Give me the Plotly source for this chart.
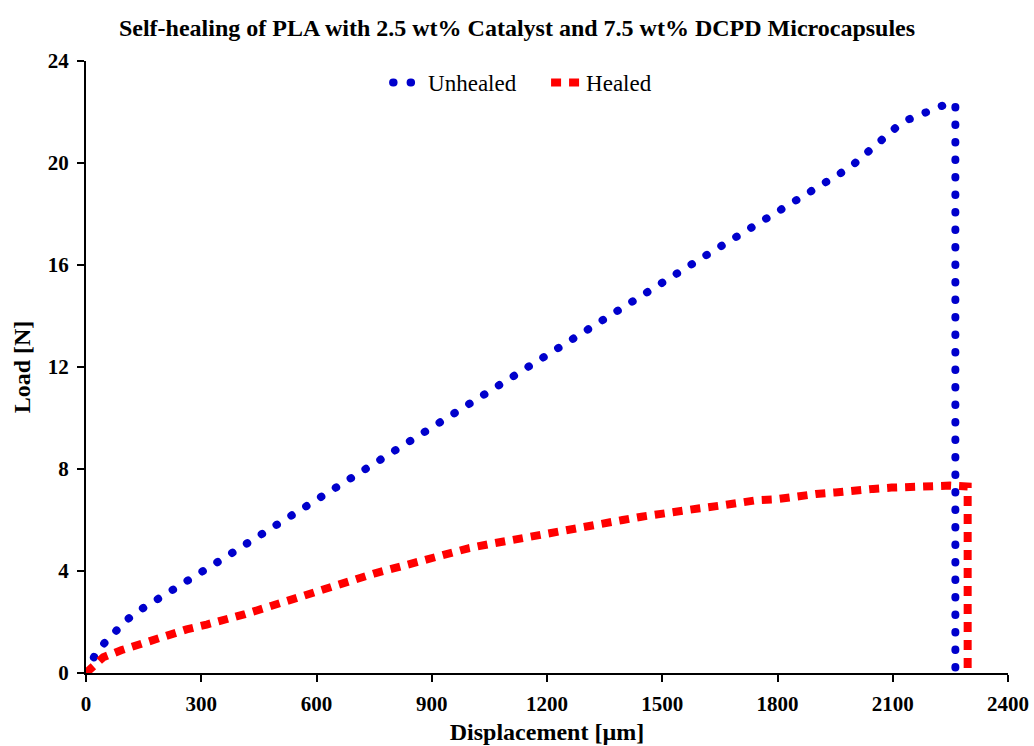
import plotly.graph_objects as go

# Unhealed (blue, dotted)
unhealed_x = [0, 28, 55, 81, 106, 132, 171, 210, 249, 288, 325, 365, 403, 600, 785,
              1098, 1251, 1600, 1989, 2012, 2037, 2063, 2088, 2113, 2138, 2163, 2188,
              2213, 2238, 2263, 2263]
unhealed_y = [0, 0.84, 1.29, 1.73, 2.08, 2.39, 2.74, 3.11, 3.48, 3.83, 4.20, 4.56, 4.93,
              6.80, 8.56, 11.45, 12.93, 16.25, 19.83, 20.14, 20.51, 20.84, 21.11, 21.45,
              21.69, 21.84, 22.05, 22.17, 22.30, 22.33, 0]

# Healed (red, dashed)
healed_x = [0, 45, 93, 132, 180, 219, 262, 314, 366, 414, 461, 514, 544, 596, 648, 696,
            752, 800, 846, 895, 946, 995, 1045, 1093, 1147, 1195, 1247, 1297, 1347, 1397,
            1446, 1496, 1548, 1598, 1648, 1698, 1748, 1800, 1850, 1900, 1950, 1997, 2049,
            2097, 2175, 2249, 2295, 2295]
healed_y = [0, 0.62, 0.90, 1.09, 1.35, 1.55, 1.71, 1.90, 2.08, 2.31, 2.53, 2.78, 2.99,
            3.23, 3.48, 3.67, 3.91, 4.10, 4.30, 4.46, 4.69, 4.89, 5.04, 5.18, 5.35, 5.48,
            5.61, 5.76, 5.89, 6.00, 6.13, 6.26, 6.35, 6.46, 6.56, 6.68, 6.78, 6.82, 6.94,
            7.02, 7.08, 7.18, 7.22, 7.27, 7.35, 7.35, 7.31, 0]

x_ticks = [0, 300, 600, 900, 1200, 1500, 1800, 2100, 2400]
y_ticks = [0, 4, 8, 12, 16, 20, 24]

FONT = "Liberation Serif, Times New Roman, serif"
BLUE = "rgb(0, 0, 204)"
RED = "rgb(255, 0, 0)"

fig = go.Figure()
fig.add_trace(go.Scatter(
    x=unhealed_x, y=unhealed_y, mode="lines", name="Unhealed",
    line=dict(color=BLUE, width=8, dash="7px,10.5px"),
))
fig.add_trace(go.Scatter(
    x=healed_x, y=healed_y, mode="lines", name="Healed",
    line=dict(color=RED, width=8, dash="10px,8px"),
))

fig.update_layout(
    width=1034, height=746,
    margin=dict(l=86, r=26, t=61, b=73),
    paper_bgcolor="white", plot_bgcolor="white",
    font=dict(family=FONT, color="black"),
    title=dict(
        text="<b>Self-healing of PLA with 2.5 wt% Catalyst and 7.5 wt% DCPD Microcapsules</b>",
        x=0.5, xanchor="center", y=0.963, yanchor="middle",
        font=dict(family=FONT, size=24, color="black"),
    ),
    showlegend=True,
    legend=dict(
        orientation="h", x=0.499, xanchor="center", y=1.0, yanchor="top",
        font=dict(family=FONT, size=23, color="black"),
        bgcolor="rgba(0,0,0,0)", entrywidth=113,
    ),
    xaxis=dict(
        range=[0, 2400], tickvals=x_ticks, ticktext=[f"<b>{v}</b>" for v in x_ticks],
        showline=True, linecolor="black", linewidth=2, mirror=False,
        ticks="outside", ticklen=7, tickwidth=2, tickcolor="black",
        showgrid=False, zeroline=False, ticklabelstandoff=4, automargin=False,
        tickfont=dict(family=FONT, size=21, color="black"),
        title=dict(text="<b>Displacement [µm]</b>", standoff=8,
                   font=dict(family=FONT, size=24, color="black")),
    ),
    yaxis=dict(
        range=[0, 24], tickvals=y_ticks, ticktext=[f"<b>{v}</b>" for v in y_ticks],
        showline=True, linecolor="black", linewidth=2, mirror=False,
        ticks="outside", ticklen=7, tickwidth=2, tickcolor="black",
        showgrid=False, zeroline=False, ticklabelstandoff=4, automargin=False,
        tickfont=dict(family=FONT, size=21, color="black"),
        title=dict(text="<b>Load [N]</b>", standoff=10,
                   font=dict(family=FONT, size=24, color="black")),
    ),
)

# Round dots for the "Unhealed" line (Excel round-dot style)
post_script = """
var gd = document.getElementById('{plot_id}');
function roundDots() {
  var paths = gd.querySelectorAll('path.js-line');
  paths.forEach(function (p) {
    var s = (p.style.stroke || '').replace(/\\s/g, '');
    if (s.indexOf('0,0,204') !== -1) {
      p.style.strokeLinecap = 'round';
      p.style.strokeDasharray = '0.5px,17px';
    }
  });
}
roundDots();
gd.on('plotly_afterplot', roundDots);
"""

fig.write_html("out.html", post_script=post_script)
